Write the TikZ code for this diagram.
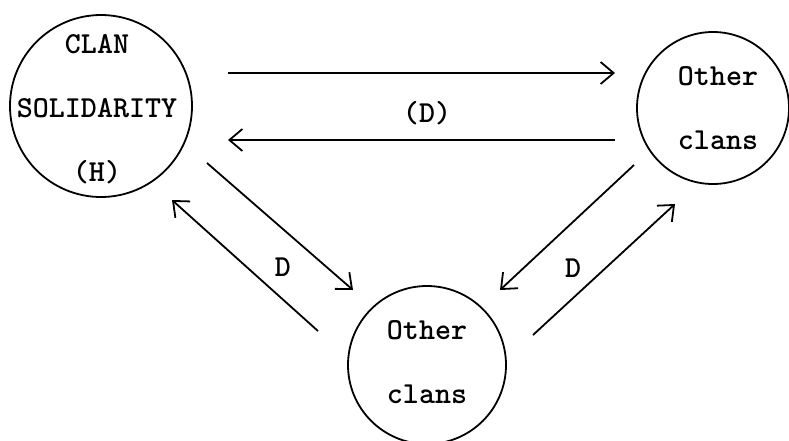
\documentclass[tikz,border=0pt]{standalone}
\usetikzlibrary{arrows.meta}
\begin{document}
\begin{tikzpicture}[x=1pt,y=-1pt,
  clan/.style={circle,draw,line width=1.8pt,inner sep=0pt},
  txt/.style={font=\fontsize{30.5}{64}\selectfont\ttfamily\bfseries,align=center,inner sep=0pt},
  fl/.style={line width=1.8pt,-{Straight Barb[length=13pt,width=22pt,line width=1.8pt]}}]
\path[use as bounding box] (0,0) rectangle (789,440);
\node[clan,minimum size=182pt] (sol) at (101,106) {};
\node[clan,minimum size=152pt] (oth1) at (713,108) {};
\node[clan,minimum size=158pt] (oth2) at (427,365) {};
\node[txt] (tsol) at (97,109.5) {CLAN\\SOLIDARITY\\(H)};
\node[txt] (toth1) at (718,108.5) {Other\\clans};
\node[txt] (toth2) at (427,362.5) {Other\\clans};
\coordinate (a1) at (228,73); \coordinate (a2) at (615,73);
\coordinate (b1) at (615,140); \coordinate (b2) at (228,140);
\coordinate (c1) at (207,163); \coordinate (c2) at (353,290);
\coordinate (d1) at (318,331); \coordinate (d2) at (172,200);
\coordinate (e1) at (634,165); \coordinate (e2) at (500,290);
\coordinate (f1) at (533,335); \coordinate (f2) at (675,204);
\draw[fl] (a1) -- (a2);
\draw[fl] (b1) -- (b2);
\draw[fl] (c1) -- (c2);
\draw[fl] (d1) -- (d2);
\draw[fl] (e1) -- (e2);
\draw[fl] (f1) -- (f2);
\node[txt] (dtop) at (427,113) {(D)};
\node[txt] (dleft) at (283,267) {D};
\node[txt] (dright) at (573,268) {D};
\end{tikzpicture}
\end{document}
